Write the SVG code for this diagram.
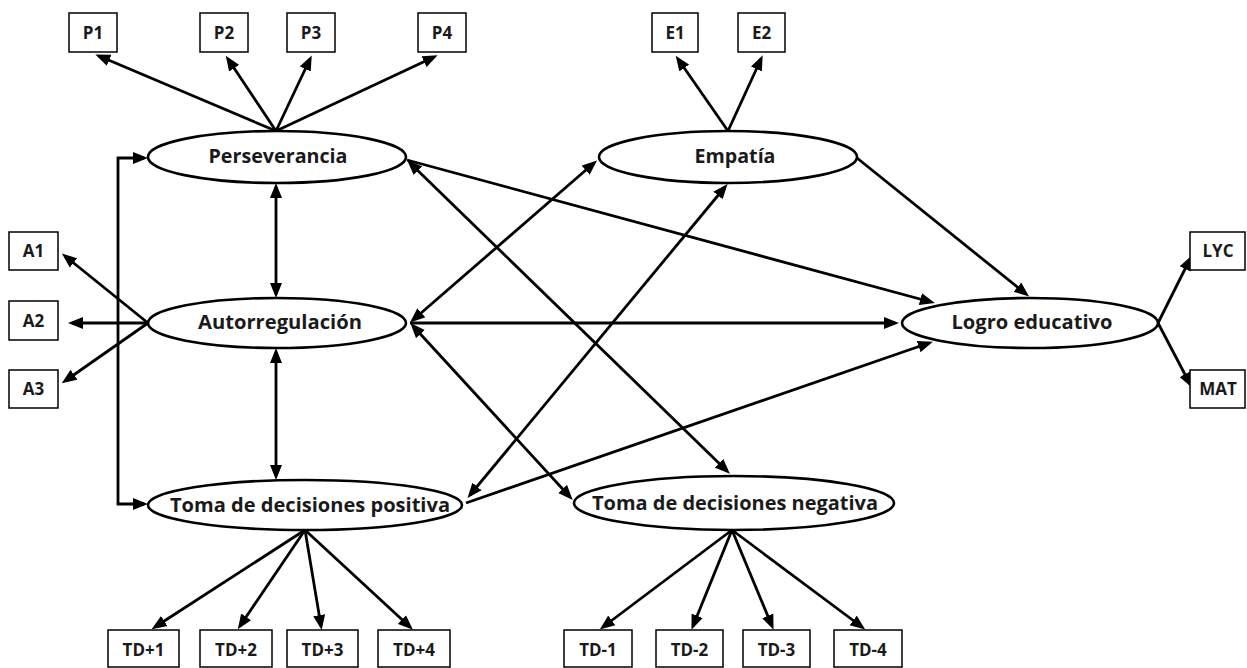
<svg xmlns="http://www.w3.org/2000/svg" width="1247" height="668" viewBox="0 0 1247 668">
<style>
.lat{fill:#fff;stroke:#000;stroke-width:2.6}
.box{fill:#fff;stroke:#000;stroke-width:1.5}
.lt{font-family:"Open Sans","Liberation Sans",sans-serif;font-weight:700;font-size:19px;fill:#1a1a1a;text-anchor:middle}
.bt{font-family:"Open Sans","Liberation Sans",sans-serif;font-weight:700;font-size:17px;fill:#1a1a1a;text-anchor:middle}
.c{fill:none;stroke:#000;stroke-width:2.8;marker-end:url(#ah)}
.d{marker-start:url(#ah)}
</style>
<defs>
<marker id="ah" markerUnits="userSpaceOnUse" markerWidth="16" markerHeight="13" viewBox="0 0 16 13" refX="11" refY="6.5" orient="auto-start-reverse">
<path d="M0,0.5 L15,6.5 L0,12.5 z" fill="#000"/>
</marker>
</defs>
<rect width="1247" height="668" fill="#fff"/>
<g id="connectors">
<path class="c" d="M276,131 L99,56"/>
<path class="c" d="M276,131 L228,59"/>
<path class="c" d="M276,131 L310,59"/>
<path class="c" d="M276,131 L434,57"/>
<path class="c" d="M728,131 L678,59"/>
<path class="c" d="M728,131 L761,59"/>
<path class="c" d="M148,323 L65,256"/>
<path class="c" d="M148,323 L72,323"/>
<path class="c" d="M148,323 L65,381"/>
<path class="c" d="M1158,323 L1190,259"/>
<path class="c" d="M1158,323 L1190,384"/>
<path class="c" d="M305,530 L155,627"/>
<path class="c" d="M305,530 L240,626"/>
<path class="c" d="M305,530 L321,626"/>
<path class="c" d="M305,530 L410,627"/>
<path class="c" d="M732,530 L603,627"/>
<path class="c" d="M732,530 L693,626"/>
<path class="c" d="M732,530 L772,626"/>
<path class="c" d="M732,530 L862,627"/>
<path class="c" d="M857,158 L1026,294"/>
<path class="c" d="M407,160 L931,302"/>
<path class="c" d="M410,323 L895,323"/>
<path class="c" d="M466,503 L929,343"/>
<path class="c d" d="M413,320 L594,163"/>
<path class="c d" d="M413,326 L570,497"/>
<path class="c d" d="M410,163 L727,471"/>
<path class="c d" d="M276,187 L276,294"/>
<path class="c d" d="M276,352 L276,476"/>
<path class="c d" d="M470,495 L725,187"/>
<path class="c d" d="M144,158 H118 V504 H144"/>
</g>
<g id="n-perseverancia"><ellipse class="lat" cx="277" cy="157" rx="129" ry="26"/><text class="lt" x="278" y="163" textLength="139" lengthAdjust="spacingAndGlyphs">Perseverancia</text></g>
<g id="n-empatia"><ellipse class="lat" cx="728" cy="157" rx="129" ry="26"/><text class="lt" x="735" y="163" textLength="81" lengthAdjust="spacingAndGlyphs">Empatía</text></g>
<g id="n-autorregulacion"><ellipse class="lat" cx="277" cy="323" rx="129" ry="25"/><text class="lt" x="280" y="329" textLength="164" lengthAdjust="spacingAndGlyphs">Autorregulación</text></g>
<g id="n-logro"><ellipse class="lat" cx="1030" cy="323" rx="128" ry="25"/><text class="lt" x="1032" y="329" textLength="161" lengthAdjust="spacingAndGlyphs">Logro educativo</text></g>
<g id="n-tdpos"><ellipse class="lat" cx="305" cy="505" rx="157" ry="25"/><text class="lt" x="310" y="512" textLength="280" lengthAdjust="spacingAndGlyphs">Toma de decisiones positiva</text></g>
<g id="n-tdneg"><ellipse class="lat" cx="734" cy="503" rx="160" ry="27"/><text class="lt" x="735" y="510" textLength="286" lengthAdjust="spacingAndGlyphs">Toma de decisiones negativa</text></g>
<g id="n-p1"><rect class="box" x="69" y="13" width="48" height="39"/><text class="bt" x="93" y="39">P1</text></g>
<g id="n-p2"><rect class="box" x="200" y="13" width="48" height="39"/><text class="bt" x="224" y="39">P2</text></g>
<g id="n-p3"><rect class="box" x="287" y="13" width="48" height="39"/><text class="bt" x="311" y="39">P3</text></g>
<g id="n-p4"><rect class="box" x="418" y="13" width="48" height="39"/><text class="bt" x="442" y="39">P4</text></g>
<g id="n-e1"><rect class="box" x="652" y="13" width="46" height="39"/><text class="bt" x="675" y="39">E1</text></g>
<g id="n-e2"><rect class="box" x="738" y="13" width="47" height="39"/><text class="bt" x="761.5" y="39">E2</text></g>
<g id="n-a1"><rect class="box" x="9" y="232" width="49" height="38"/><text class="bt" x="33.5" y="257">A1</text></g>
<g id="n-a2"><rect class="box" x="9" y="301" width="49" height="39"/><text class="bt" x="33.5" y="327">A2</text></g>
<g id="n-a3"><rect class="box" x="9" y="370" width="49" height="38"/><text class="bt" x="33.5" y="395">A3</text></g>
<g id="n-lyc"><rect class="box" x="1190" y="232" width="55" height="38"/><text class="bt" x="1218" y="257">LYC</text></g>
<g id="n-mat"><rect class="box" x="1190" y="370" width="55" height="38"/><text class="bt" x="1218" y="395">MAT</text></g>
<g id="n-tdp1"><rect class="box" x="108" y="630" width="71" height="37"/><text class="bt" x="143.5" y="656">TD+1</text></g>
<g id="n-tdp2"><rect class="box" x="200" y="630" width="72" height="37"/><text class="bt" x="236" y="656">TD+2</text></g>
<g id="n-tdp3"><rect class="box" x="287" y="630" width="71" height="37"/><text class="bt" x="322.5" y="656">TD+3</text></g>
<g id="n-tdp4"><rect class="box" x="378" y="630" width="72" height="37"/><text class="bt" x="414" y="656">TD+4</text></g>
<g id="n-tdn1"><rect class="box" x="564" y="630" width="68" height="37"/><text class="bt" x="598" y="656">TD-1</text></g>
<g id="n-tdn2"><rect class="box" x="656" y="630" width="67" height="37"/><text class="bt" x="689.5" y="656">TD-2</text></g>
<g id="n-tdn3"><rect class="box" x="743" y="630" width="67" height="37"/><text class="bt" x="776.5" y="656">TD-3</text></g>
<g id="n-tdn4"><rect class="box" x="834" y="630" width="68" height="37"/><text class="bt" x="868" y="656">TD-4</text></g>
</svg>
